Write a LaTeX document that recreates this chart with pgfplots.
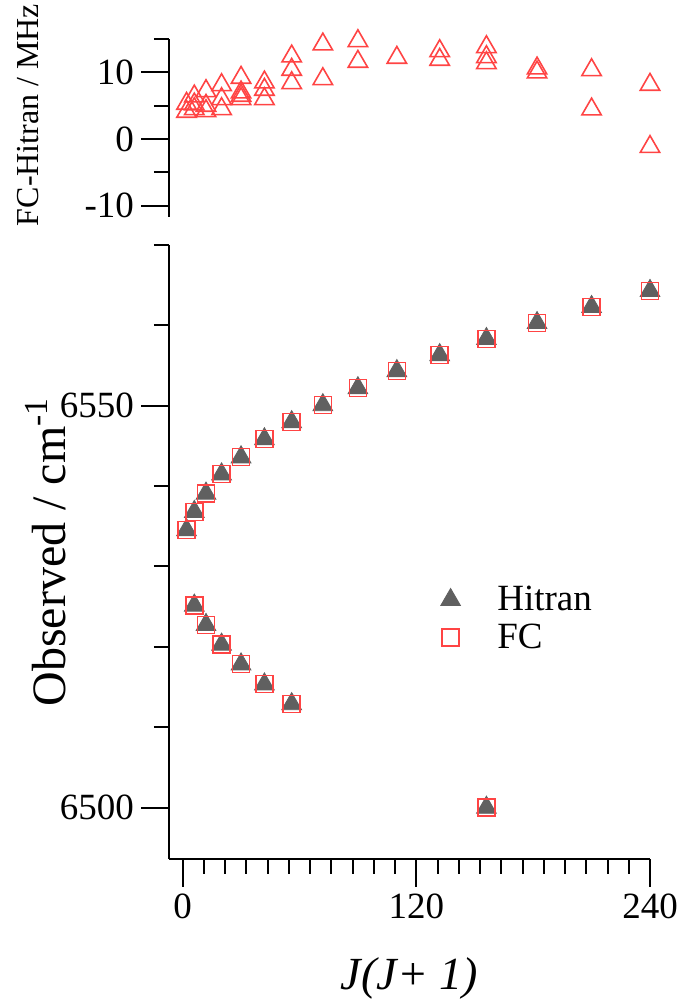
\documentclass[border=0pt]{standalone}
\usepackage{fontspec}
\setmainfont{Liberation Serif}
\usepackage{pgfplots}
\pgfplotsset{compat=1.18}
\definecolor{fcred}{RGB}{255,68,68}
\definecolor{hitgray}{RGB}{96,96,96}

\begin{document}
\begin{tikzpicture}
\pgfplotsset{
  panel/.style={
    scale only axis, width=240.5pt, xmin=-7, xmax=240, clip=false,
    axis line style={line width=1pt},
    tick style={line width=1pt, black},
    tick align=outside,
    major tick length=14pt, minor tick length=7.5pt,
    tick label style={font=\fontsize{18.5}{20}\selectfont},
    /pgf/number format/assume math mode=true,
    /pgf/number format/1000 sep={},
    axis y line*=left,
  }
}
% frequency differences FC - Hitran
\begin{axis}[panel, at={(84.5pt,392pt)}, anchor=south west, height=89pt,
  ymin=-11.7, ymax=15, axis x line=none,
  ytick={-10,0,10}, minor ytick={-5,5,15},
  ylabel={FC-Hitran / MHz},
  ylabel style={font=\fontsize{16}{18}\selectfont, at={(axis description cs:-0.293,0.573)}, anchor=center}]
\addplot[only marks, mark=triangle, mark size=5.6pt, color=fcred, line width=0.8pt]
  coordinates {
  (2,5.3) (2,4.1)
  (6,6.4) (6,5.2) (6,4.5)
  (12,7.2) (12,5.0) (12,4.2)
  (20,8.1) (20,6.0) (20,4.5)
  (30,9.2) (30,7.0) (30,6.5) (30,6.0)
  (42,8.5) (42,7.4) (42,6.0)
  (56,12.4) (56,10.4) (56,8.4)
  (72,14.2) (72,9.0)
  (90,14.7) (90,11.6)
  (110,12.2)
  (132,13.2) (132,11.9)
  (156,13.8) (156,12.3) (156,11.4)
  (182,10.6) (182,10.0)
  (210,10.35) (210,4.45)
  (240,8.15) (240,-1.17)
  };
\end{axis}
% observed line positions
\begin{axis}[panel, at={(84.5pt,71pt)}, anchor=south west, height=307pt,
  ymin=6493.6, ymax=6570, axis x line*=bottom,
  xtick={0,120,240}, minor x tick num=10,
  ytick={6500,6550}, minor ytick={6510,6520,6530,6540,6560,6570},
  xlabel={\textit{J(J+ 1)}},
  xlabel style={font=\fontsize{23}{25}\selectfont, at={(axis description cs:0.5,-0.194)}, anchor=center},
  ylabel={Observed / cm\textsuperscript{-1}},
  ylabel style={font=\fontsize{24}{26}\selectfont, at={(axis description cs:-0.256,0.5)}, anchor=center},
  legend style={draw=none, fill=none, at={(axis cs:127.8,6528.6)}, anchor=north west,
    font=\fontsize{18.5}{20}\selectfont, row sep=1pt},
  legend cell align=left,
  legend image code/.code={\draw[#1] plot coordinates {(0pt,0pt)}; \path (-6pt,0pt) (21pt,0pt);}]
\addplot[only marks, mark=triangle*, mark size=5.7pt, color=hitgray, fill=hitgray]
  coordinates {
  (2,6534.53) (6,6536.81) (12,6539.08) (20,6541.48) (30,6543.60)
  (42,6545.85) (56,6547.97) (72,6550.09) (90,6552.20) (110,6554.33)
  (132,6556.32) (156,6558.32) (182,6560.31) (210,6562.31) (240,6564.30)
  (6,6525.15) (12,6522.74) (20,6520.29) (30,6517.83) (42,6515.34) (56,6512.89)
  (156,6500.00)
  };
\addlegendentry{Hitran}
\addplot[only marks, mark=square, mark size=4.25pt, color=fcred, line width=0.7pt]
  coordinates {
  (2,6534.53) (6,6536.81) (12,6539.08) (20,6541.48) (30,6543.60)
  (42,6545.85) (56,6547.97) (72,6550.09) (90,6552.20) (110,6554.33)
  (132,6556.32) (156,6558.32) (182,6560.31) (210,6562.31) (240,6564.30)
  (6,6525.15) (12,6522.74) (20,6520.29) (30,6517.83) (42,6515.34) (56,6512.89)
  (156,6500.00)
  };
\addlegendentry{FC}
\end{axis}
\pgfresetboundingbox
\path[use as bounding box] (0pt,0pt) rectangle (341pt,500.5pt);
\end{tikzpicture}
\end{document}
